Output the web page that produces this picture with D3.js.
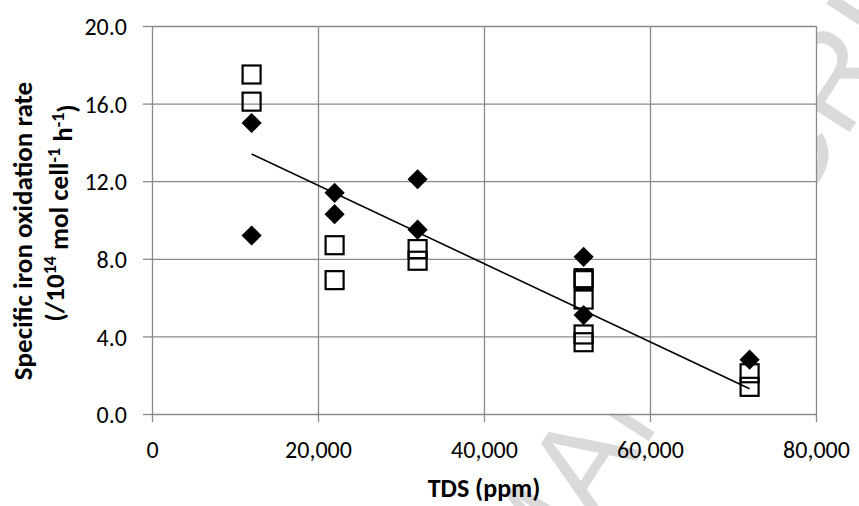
<!DOCTYPE html>
<html>
<head>
<meta charset="utf-8">
<script src="https://cdn.jsdelivr.net/npm/d3@7"></script>
<style>
  html, body { margin: 0; padding: 0; background: #fff; }
  svg { display: block; }
  text { font-family: Carlito, Lato, "Open Sans", sans-serif; }
</style>
</head>
<body>
<svg id="chart" width="859" height="506"></svg>
<script>
// ---- data ----
const squareX = [12000, 12000, 22000, 22000, 32000, 32000, 52000, 52000, 52000, 52000, 52000, 72000, 72000];
const squareY = [17.5, 16.1, 8.7, 6.9, 8.5, 7.9, 7.0, 6.9, 5.9, 4.1, 3.7, 2.1, 1.4];
const diamondX = [12000, 12000, 22000, 22000, 32000, 32000, 52000, 52000, 72000];
const diamondY = [15.0, 9.2, 11.4, 10.3, 12.1, 9.5, 8.1, 5.1, 2.8];
const trendX = [12000, 72000];
const trendY = [13.4, 1.3];
const xTicks = [0, 20000, 40000, 60000, 80000];
const yTicks = [0, 4, 8, 12, 16, 20];
const xTitle = "TDS (ppm)";
const watermark = "ACCEPTED MANUSCRIPT";

(function () {
const svg = d3.select("#chart");
const pL = 152, pR = 816, pT = 26, pB = 414;
const x = d3.scaleLinear().domain([0, 80000]).range([pL, pR]);
const y = d3.scaleLinear().domain([0, 20]).range([pB, pT]);
const grid = "#8a8a8a";

// watermark (behind the plot area)
svg.append("text")
  .attr("transform", "translate(1005,-107) rotate(-57)")
  .attr("text-anchor", "end")
  .style("font-family", "'Liberation Sans', Arial, sans-serif")
  .style("font-size", "130px")
  .attr("fill", "#dadada")
  .text(watermark);

// plot area background
svg.append("rect").attr("x", pL).attr("y", pT)
  .attr("width", pR - pL).attr("height", pB - pT).attr("fill", "#fff");

// axes with gridlines
const xAxis = svg.append("g").attr("transform", `translate(0,${pB})`)
  .call(d3.axisBottom(x).tickValues(xTicks).tickSize(8).tickFormat(d3.format(",")));
xAxis.select(".domain").remove();
xAxis.selectAll(".tick line").clone().attr("y1", 0).attr("y2", -(pB - pT));
xAxis.selectAll(".tick line").attr("stroke", grid).attr("stroke-width", 1.3);
xAxis.selectAll(".tick text").attr("y", 44).attr("dy", null)
  .attr("fill", "#000").style("font-size", "24px").style("font-family", "Carlito, Lato, sans-serif");

const yAxis = svg.append("g").attr("transform", `translate(${pL},0)`)
  .call(d3.axisLeft(y).tickValues(yTicks).tickSize(9).tickPadding(16).tickFormat(d3.format(".1f")));
yAxis.select(".domain").remove();
yAxis.selectAll(".tick line").clone().attr("x1", 0).attr("x2", pR - pL);
yAxis.selectAll(".tick line").attr("stroke", grid).attr("stroke-width", 1.3);
yAxis.selectAll(".tick text").attr("dy", "0.36em")
  .attr("fill", "#000").style("font-size", "24px").style("font-family", "Carlito, Lato, sans-serif");

// squares
const sq = 18;
svg.append("g").selectAll("rect").data(squareX.map((d, i) => [d, squareY[i]])).join("rect")
  .attr("x", d => x(d[0]) - sq / 2).attr("y", d => y(d[1]) - sq / 2)
  .attr("width", sq).attr("height", sq)
  .attr("fill", "none").attr("stroke", "#000").attr("stroke-width", 2.2);

// diamonds
const dsym = d3.symbol().type(d3.symbolDiamond2).size(260);
svg.append("g").selectAll("path").data(diamondX.map((d, i) => [d, diamondY[i]])).join("path")
  .attr("transform", d => `translate(${x(d[0])},${y(d[1])})`)
  .attr("d", dsym).attr("fill", "#000");

// trend line
svg.append("path")
  .datum(trendX.map((d, i) => [d, trendY[i]]))
  .attr("d", d3.line().x(d => x(d[0])).y(d => y(d[1])))
  .attr("fill", "none").attr("stroke", "#000").attr("stroke-width", 1.6);

// axis titles
svg.append("text").attr("x", (pL + pR) / 2).attr("y", 497)
  .attr("text-anchor", "middle").style("font-size", "26px").style("font-weight", "bold")
  .text(xTitle);

const yt = svg.append("text").attr("transform", "translate(32,231) rotate(-90)")
  .attr("text-anchor", "middle").style("font-size", "27px").style("font-weight", "bold");
yt.append("tspan").attr("x", 0).attr("y", 0).text("Specific iron oxidation rate");
const l2 = svg.append("text").attr("transform", "translate(64,213) rotate(-90)")
  .attr("text-anchor", "middle").style("font-size", "27px").style("font-weight", "bold");
l2.append("tspan").text("(/10");
l2.append("tspan").attr("dy", "-0.45em").style("font-size", "18px").text("14");
l2.append("tspan").attr("dy", "0.45em").text(" mol cell");
l2.append("tspan").attr("dy", "-0.45em").style("font-size", "18px").text("-1");
l2.append("tspan").attr("dy", "0.45em").text(" h");
l2.append("tspan").attr("dy", "-0.45em").style("font-size", "18px").text("-1");
l2.append("tspan").attr("dy", "0.45em").text(")");
})();
</script>
</body>
</html>
